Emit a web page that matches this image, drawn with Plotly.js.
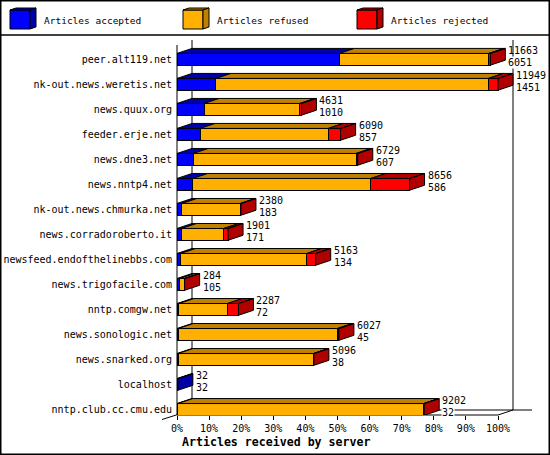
<!DOCTYPE html>
<html>
<head>
<meta charset="utf-8">
<script src="https://cdn.plot.ly/plotly-3.0.1.min.js"></script>
<style>
  html, body { margin: 0; padding: 0; background: #fff; }
  #chart { width: 550px; height: 455px; }
</style>
</head>
<body>
<div id="chart"></div>
<script>
// Articles received by server: stacked 3D-style bars, scaled to the busiest server.
const servers = [
  'peer.alt119.net', 'nk-out.news.weretis.net', 'news.quux.org', 'feeder.erje.net',
  'news.dne3.net', 'news.nntp4.net', 'nk-out.news.chmurka.net', 'news.corradoroberto.it',
  'newsfeed.endofthelinebbs.com', 'news.trigofacile.com', 'nntp.comgw.net',
  'news.sonologic.net', 'news.snarked.org', 'localhost', 'nntp.club.cc.cmu.edu'
];
const totals   = [11663, 11949, 4631, 6090, 6729, 8656, 2380, 1901, 5163, 284, 2287, 6027, 5096, 32, 9202];
const accepted = [6051, 1451, 1010, 857, 607, 586, 183, 171, 134, 105, 72, 45, 38, 32, 32];
const refused  = [5562, 10138, 3561, 4773, 6062, 6630, 2172, 1570, 4694, 174, 1805, 5922, 5038, 0, 9150];
const rejected = [50, 360, 60, 460, 60, 1440, 25, 160, 335, 5, 410, 60, 20, 0, 20];
const pctTicks = [0, 10, 20, 30, 40, 50, 60, 70, 80, 90, 100];
const pctLabels = ['0%', '10%', '20%', '30%', '40%', '50%', '60%', '70%', '80%', '90%', '100%'];

const seriesNames = ['Articles accepted', 'Articles refused', 'Articles rejected'];
const faceColors  = ['#0000ff', '#ffb000', '#ff0000'];
const depthColors = ['#0000a8', '#c08000', '#b00000'];

// page geometry (px)
const W = 550, H = 455;
const L = 177, R = 540, T = 38, B = 415;
const PW = R - L, PH = B - T;
const PX_PER_PCT = 3.21;          // 0..100% spans 321px
const ROW_PX = 25.01, ROW0_PX = 59.3;
const DX = 15 / PX_PER_PCT;       // depth, in % units
const DY = 5 / ROW_PX;            // depth, in row units
const HALF = 0.235;               // half bar thickness
const FONT = 'DejaVu Sans Mono';

const maxTotal = Math.max(...totals);
const pct = arr => arr.map(v => v / maxTotal * 100);
const rows = servers.map((_, i) => i);
const segs = [pct(accepted), pct(refused), pct(rejected)];

// front faces
const bars = segs.map((xs, k) => ({
  type: 'bar', orientation: 'h', y: rows, x: xs, width: HALF * 2,
  name: seriesNames[k], showlegend: false, hoverinfo: 'skip',
  marker: { color: faceColors[k], line: { color: '#000', width: 1 } }
}));

// top and side faces, one filled scatter per colour
const depth = [0, 1, 2].map(() => ({ x: [], y: [] }));
rows.forEach(i => {
  let start = 0, last = -1, end = 0;
  segs.forEach((xs, k) => {
    const w = xs[i];
    if (w <= 0) return;
    const a = start, b = start + w, yt = i - HALF;
    depth[k].x.push(a, b, b + DX, a + DX, a, null);
    depth[k].y.push(yt, yt, yt - DY, yt - DY, yt, null);
    start = b; last = k; end = b;
  });
  if (last >= 0) {
    depth[last].x.push(end, end, end + DX, end + DX, end, null);
    depth[last].y.push(i - HALF, i + HALF, i + HALF - DY, i - HALF - DY, i - HALF, null);
  }
});
const faces = depth.map((d, k) => ({
  type: 'scatter', mode: 'lines', x: d.x, y: d.y, fill: 'toself',
  fillcolor: depthColors[k], line: { color: '#000', width: 1 },
  hoverinfo: 'skip', showlegend: false
}));

// px -> paper helpers for the frame and legend
const px = x => (x - L) / PW;
const py = y => (B - y) / PH;
const path = pts => 'M' + pts.map(p => px(p[0]) + ',' + py(p[1])).join('L') + 'Z';
const seg = (x0, y0, x1, y1, w) => ({
  type: 'line', xref: 'paper', yref: 'paper', layer: 'below',
  x0: px(x0), y0: py(y0), x1: px(x1), y1: py(y1), line: { color: '#000', width: w || 1 }
});

const backL = L + 15, backR = L + 100 * PX_PER_PCT + 15, front100 = L + 100 * PX_PER_PCT;
const shapes = [
  seg(L, 45, L, B),
  seg(L, B, front100, B),
  seg(front100, B, backR, B - 5),
  seg(backL, B - 5, 532, B - 5),
  seg(backL, 40, backL, B - 5),
  seg(backR, 40, backR, B - 5),
  seg(162, 419.5, backL, B - 5),
  { type: 'rect', xref: 'paper', yref: 'paper', layer: 'above',
    x0: px(0.75), x1: px(W - 0.75), y0: py(0.75), y1: py(H - 0.75), line: { color: '#000', width: 1.5 } },
  { ...seg(0, 35, W, 35, 1.5), layer: 'above' }
];

// legend cubes
const legendX = [10, 183, 357];
const annotations = [];
legendX.forEach((x0, k) => {
  const t = 10, b = 29, s = 20, d = 6, e = 2;
  shapes.push(
    { type: 'path', xref: 'paper', yref: 'paper', layer: 'above', fillcolor: faceColors[k],
      line: { color: '#000', width: 1 }, path: path([[x0, t], [x0 + s, t], [x0 + s, b], [x0, b]]) },
    { type: 'path', xref: 'paper', yref: 'paper', layer: 'above', fillcolor: depthColors[k],
      line: { color: '#000', width: 1 }, path: path([[x0, t], [x0 + d, t - e], [x0 + s + d, t - e], [x0 + s, t]]) },
    { type: 'path', xref: 'paper', yref: 'paper', layer: 'above', fillcolor: depthColors[k],
      line: { color: '#000', width: 1 }, path: path([[x0 + s, t], [x0 + s + d, t - e], [x0 + s + d, b - e], [x0 + s, b]]) }
  );
  annotations.push({
    xref: 'paper', yref: 'paper', x: px(x0 + 32), y: py(20), xanchor: 'left', yanchor: 'middle',
    text: seriesNames[k], showarrow: false, font: { family: FONT, size: 9.5, color: '#000' }
  });
});

// value labels: total on top, accepted below
const totPct = pct(totals);
rows.forEach(i => {
  annotations.push({
    x: totPct[i], y: i, xref: 'x', yref: 'y', xanchor: 'left', yanchor: 'middle',
    xshift: 17, yshift: 8.5, text: String(totals[i]), showarrow: false, borderpad: 0,
    font: { family: FONT, size: 10, color: '#000' }
  });
  annotations.push({
    x: totPct[i], y: i, xref: 'x', yref: 'y', xanchor: 'left', yanchor: 'middle',
    xshift: 17, yshift: -3, text: String(accepted[i]), showarrow: false, borderpad: 0,
    bgcolor: '#fff', font: { family: FONT, size: 10, color: '#000' }
  });
});

annotations.push({
  xref: 'paper', yref: 'paper', x: px(180), y: py(441.5), xanchor: 'left', yanchor: 'middle',
  text: '<b>Articles received by server</b>', showarrow: false,
  font: { family: FONT, size: 11.6, color: '#000' }
});

const layout = {
  width: W, height: H,
  margin: { l: L, r: W - R, t: T, b: H - B, pad: 0 },
  paper_bgcolor: '#fff', plot_bgcolor: 'rgba(0,0,0,0)',
  barmode: 'stack', showlegend: false,
  font: { family: FONT, size: 10, color: '#000' },
  xaxis: {
    range: [0, PW / PX_PER_PCT], tickmode: 'array', tickvals: pctTicks, ticktext: pctLabels,
    ticks: 'outside', ticklen: 4, tickcolor: '#000', tickwidth: 1,
    showgrid: false, zeroline: false, showline: false, fixedrange: true,
    tickfont: { family: FONT, size: 10, color: '#000' }
  },
  yaxis: {
    range: [(B - ROW0_PX) / ROW_PX, (T - ROW0_PX) / ROW_PX],
    tickvals: rows, ticktext: servers, ticks: '', ticklabelstandoff: 4,
    showgrid: false, zeroline: false, showline: false, fixedrange: true,
    tickfont: { family: FONT, size: 10, color: '#000' }
  },
  shapes: shapes,
  annotations: annotations
};

Plotly.newPlot('chart', [...bars, ...faces], layout, { displayModeBar: false, staticPlot: true });
</script>
</body>
</html>
